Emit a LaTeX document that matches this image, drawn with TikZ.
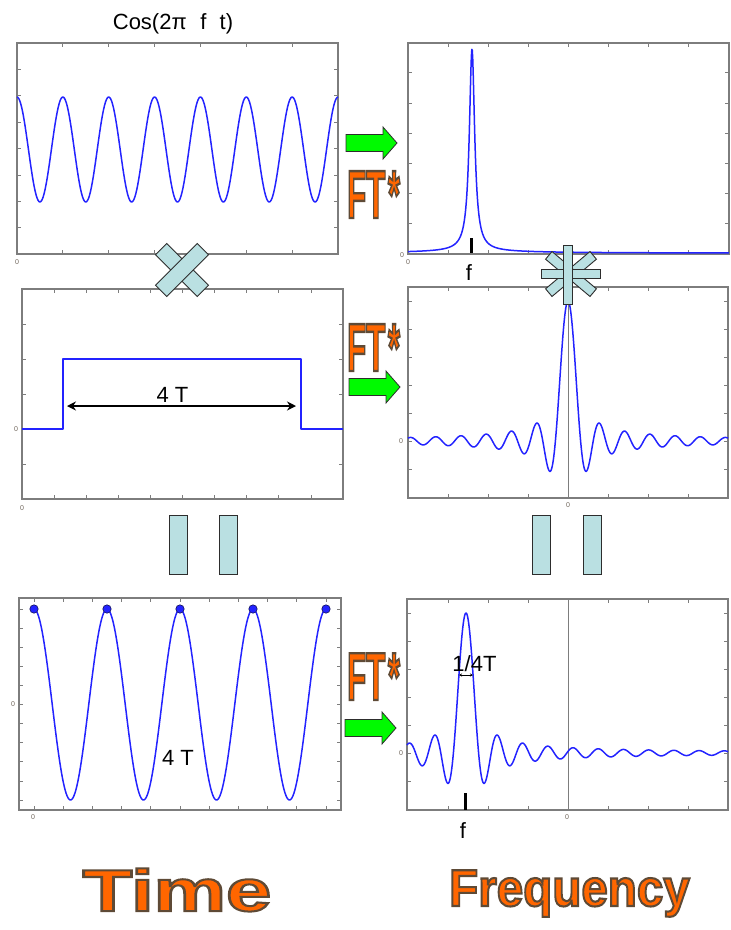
\documentclass[tikz,border=0pt]{standalone}
\usepackage{fontspec}
\setmainfont{Liberation Sans}
\newfontfamily\heavyfont{Liberation Sans}[BoldFeatures={FakeBold=3.6}]
\newfontfamily\timefont{Liberation Sans}[BoldFeatures={FakeBold=3.4}]
\newfontfamily\freqfont{Liberation Sans}[BoldFeatures={FakeBold=4}]
\usepackage{graphicx}
\usetikzlibrary{arrows.meta}
\definecolor{curveblue}{RGB}{35,35,255}
\definecolor{axisgray}{RGB}{125,125,125}
\definecolor{zerogray}{RGB}{110,100,90}
\definecolor{ftorange}{RGB}{255,102,0}
\definecolor{arrowgreen}{RGB}{0,250,0}
\definecolor{opblue}{RGB}{186,224,226}
\definecolor{opedge}{RGB}{45,45,45}
\definecolor{dotnavy}{RGB}{20,20,90}
% orange fill, dark-brown stroke for the emboldened titles
\newcommand\strokedark{\special{pdf:code 0.37 0.29 0.21 RG}}
\newcommand\ftlabel{\scalebox{0.46}[1]{\fontsize{68}{68}\heavyfont\bfseries\color{ftorange}\strokedark FT\kern0.08em*}}
\tikzset{
  frame/.style={draw=axisgray, line width=1.2pt},
  tickmark/.style={draw=axisgray, line width=0.8pt},
  curve/.style={draw=curveblue, line width=1.5pt, line join=round},
  zerolbl/.style={font=\fontsize{7}{7}\selectfont, text=zerogray, inner sep=0},
  lbl/.style={font=\fontsize{22}{22}\selectfont, inner sep=0},
  opbar/.style={rectangle, fill=opblue, draw=opedge, line width=0.9pt, inner sep=0},
  ftnode/.style={anchor=base west, inner sep=0},
  greenarrow/.pic={\draw[fill=arrowgreen, draw=opedge, line width=0.8pt, line join=miter]
     (0,-8.5) -- (37,-8.5) -- (37,-16) -- (51,0) -- (37,16) -- (37,8.5) -- (0,8.5) -- cycle;}
}
\begin{document}
\begin{tikzpicture}[x=1pt,y=-1pt]
\useasboundingbox (0,0) rectangle (731,930);

% ---------- title
\node[lbl, anchor=base] (title) at (173,29) {Cos(2π\hspace{0.62em}f\hspace{0.6em}t)};

% ---------- panel 1 : cosine
\draw[frame] (17,43) rectangle (338,254);
\foreach \i in {1,...,6} {
  \draw[tickmark] ({17+45.86*\i},43) -- ++(0,4);
  \draw[tickmark] ({17+45.86*\i},254) -- ++(0,-4);}
\foreach \i in {1,...,7} {
  \draw[tickmark] (17,{43+26.4*\i}) -- ++(4,0);
  \draw[tickmark] (338,{43+26.4*\i}) -- ++(-4,0);}
\draw[curve] plot[domain=17:338, samples=320] (\x,{149.5-52.5*cos((\x-17)/45.86*360)});
\node[zerolbl] (z1b) at (17,262) {0};

% ---------- panel 2 : spectrum peak
\draw[frame] (408,43) rectangle (729,254);
\foreach \i in {1,...,7} {
  \draw[tickmark] ({408+40.1*\i},43) -- ++(0,4);
  \draw[tickmark] ({408+40.1*\i},254) -- ++(0,-4);}
\foreach \i in {1,...,6} {
  \draw[tickmark] (408,{254-30.2*\i}) -- ++(4,0);
  \draw[tickmark] (729,{254-30.2*\i}) -- ++(-4,0);}
\draw[curve] plot[domain=408:729, samples=700] (\x,{253.5-201/(1+((\x-472)/3.2)^2)-150/(40+abs(\x-472))});
\draw[line width=3pt] (471,238) -- (471,253);
\node[lbl, anchor=base] (f1) at (469,280) {f};
\node[zerolbl] (z2l) at (402,255) {0};
\node[zerolbl] (z2b) at (408,262) {0};

% ---------- panel 3 : rectangle window
\draw[frame] (22,289) rectangle (343,499);
\foreach \i in {1,...,9} {
  \draw[tickmark] ({22+32.1*\i},289) -- ++(0,4);
  \draw[tickmark] ({22+32.1*\i},499) -- ++(0,-4);}
\foreach \i in {1,...,5} {
  \draw[tickmark] (22,{289+35.1*\i}) -- ++(4,0);
  \draw[tickmark] (343,{289+35.1*\i}) -- ++(-4,0);}
\draw[curve] (22,429) -- (63,429) -- (63,359) -- (301,359) -- (301,429) -- (343,429);
\coordinate (wl) at (67,406);
\coordinate (wr) at (296,406);
\draw[line width=2pt, {Stealth[length=9pt,width=9pt]}-{Stealth[length=9pt,width=9pt]}] (wl) -- (wr);
\node[lbl, anchor=base] (fourT1) at (172.5,402) {4 T};
\node[zerolbl] (z3l) at (16,429) {0};
\node[zerolbl] (z3b) at (22,508) {0};

% ---------- panel 4 : sinc
\draw[frame] (408,287) rectangle (728,498);
\draw[frame, line width=1pt] (568,287) -- (568,498);
\foreach \i in {1,...,7} {
  \draw[tickmark] ({408+40*\i},287) -- ++(0,4);
  \draw[tickmark] ({408+40*\i},498) -- ++(0,-4);}
\foreach \i in {0,...,6} {
  \draw[tickmark] (408,{301+28*\i}) -- ++(4,0);
  \draw[tickmark] (728,{301+28*\i}) -- ++(-4,0);}
\draw[curve] plot[domain=408:728, samples=640] (\x,{441-140*sin(deg(0.2493*(\x-568)))/(0.2493*(\x-568))});
\node[zerolbl] (z4l) at (401,441) {0};
\node[zerolbl] (z4b) at (568,505) {0};

% ---------- panel 5 : sampled cosine
\draw[frame] (19,598) rectangle (341,810);
\foreach \i in {0,...,10} {
  \draw[tickmark] ({34+29.2*\i},598) -- ++(0,4);
  \draw[tickmark] ({34+29.2*\i},810) -- ++(0,-4);
  \draw[tickmark] (19,{609+19.1*\i}) -- ++(4,0);
  \draw[tickmark] (341,{609+19.1*\i}) -- ++(-4,0);}
\draw[curve] plot[domain=34:326, samples=320] (\x,{704.5-95.5*cos((\x-34)/73*360)});
\foreach \k in {0,...,4}
  \filldraw[fill=curveblue, draw=dotnavy, line width=0.6pt] ({34+73*\k},609) circle[radius=4.2pt];
\node[lbl, anchor=base] (fourT2) at (178,765) {4 T};
\node[zerolbl] (z5l) at (13,704) {0};
\node[zerolbl] (z5b) at (33,817) {0};

% ---------- panel 6 : shifted sinc
\draw[frame] (407,599) rectangle (728,810);
\draw[frame, line width=1pt] (568,599) -- (568,810);
\foreach \i in {1,...,7} {
  \draw[tickmark] ({408+40*\i},599) -- ++(0,4);
  \draw[tickmark] ({408+40*\i},810) -- ++(0,-4);}
\foreach \i in {-5,...,1} {
  \draw[tickmark] (407,{753+28*\i}) -- ++(4,0);
  \draw[tickmark] (728,{753+28*\i}) -- ++(-4,0);}
\draw[curve] plot[domain=407:728, samples=640] (\x,{753-140*sin(deg(0.2493*(\x-466)))/(0.2493*(\x-466))});
\node[lbl, anchor=base] (quarter) at (474.5,671) {1/4T};
\coordinate (ql) at (459,675);
\coordinate (qr) at (473,675);
\draw[line width=1pt, {Stealth[length=3pt,width=3pt]}-{Stealth[length=3pt,width=3pt]}] (ql) -- (qr);
\draw[line width=3pt] (465,793) -- (465,810);
\node[lbl, anchor=base] (f2) at (463,838) {f};
\node[zerolbl] (z6l) at (401,753) {0};
\node[zerolbl] (z6b) at (567,817) {0};

% ---------- operators
\node[opbar, minimum width=59pt, minimum height=16pt, rotate=-45] (mulA) at (182,270) {};
\node[opbar, minimum width=59pt, minimum height=16pt, rotate=45] (mulB) at (182,270) {};
\node[opbar, minimum width=58pt, minimum height=10pt, rotate=40] (convA) at (571,274) {};
\node[opbar, minimum width=58pt, minimum height=10pt, rotate=-40] (convB) at (571,274) {};
\node[opbar, minimum width=59pt, minimum height=9pt] (convH) at (571,274) {};
\node[opbar, minimum width=9pt, minimum height=59pt] (convV) at (567.5,274.5) {};
\node[opbar, minimum width=18pt, minimum height=59pt] (eqA) at (178,544.5) {};
\node[opbar, minimum width=18pt, minimum height=59pt] (eqB) at (228.5,544.5) {};
\node[opbar, minimum width=18pt, minimum height=59pt] (eqC) at (541.5,544.5) {};
\node[opbar, minimum width=18pt, minimum height=59pt] (eqD) at (592,544.5) {};

% ---------- FT arrows
\pic at (346,143) {greenarrow};
\node[ftnode] (ft1) at (347,218) {\ftlabel};
\node[ftnode] (ft2) at (347,371) {\ftlabel};
\pic at (349,387) {greenarrow};
\node[ftnode] (ft3) at (347,700) {\ftlabel};
\pic at (345,728) {greenarrow};

% ---------- domain titles
\node[inner sep=0, anchor=base] (timelbl) at (177,911)
  {\scalebox{1.38}[1]{\fontsize{59}{59}\timefont\bfseries\color{ftorange}\strokedark Time}};
\node[inner sep=0, anchor=base] (freqlbl) at (569.5,906)
  {\scalebox{0.915}[1]{\fontsize{52}{52}\freqfont\bfseries\color{ftorange}\strokedark Frequency}};
\end{tikzpicture}
\end{document}
